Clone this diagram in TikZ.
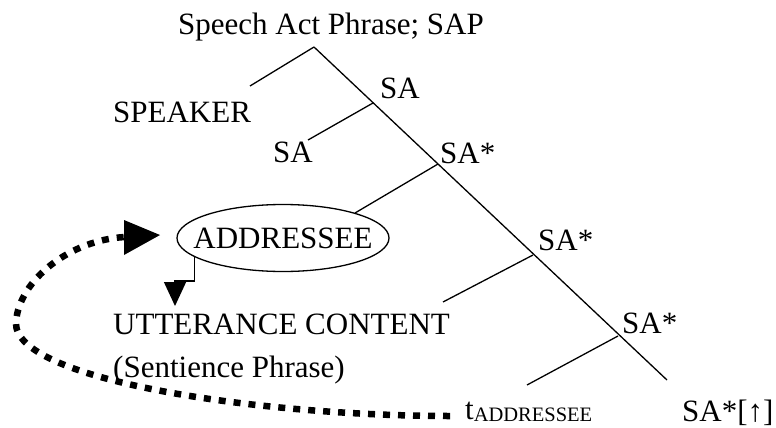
\documentclass[tikz,border=0pt]{standalone}
\usepackage{fontspec}
\setmainfont{Liberation Serif}
\usetikzlibrary{arrows.meta,shapes.geometric}
\begin{document}
\begin{tikzpicture}[x=1pt,y=-1pt,
  lbl/.style={inner sep=0pt,anchor=base west,font=\fontsize{31}{36}\selectfont},
  tree/.style={line width=1.3pt},
  dots/.style={line width=6.5pt,dash pattern=on 7pt off 8pt}]
\useasboundingbox (0,0) rectangle (776,428);
% tree coordinates
\coordinate (top) at (314,47);
\coordinate (b1) at (373,103);
\coordinate (b2) at (438,164);
\coordinate (b3) at (533,255);
\coordinate (b4) at (618,336);
\coordinate (bot) at (667,380);
\coordinate (l0) at (250,86);
\coordinate (l1) at (308,140);
\coordinate (l2) at (355,213);
\coordinate (l3) at (443,302);
\coordinate (l4) at (527,385);
% labels
\node[lbl,anchor=base] (sap) at (331,35) {Speech Act Phrase; SAP};
\node[lbl] (spk) at (113,122) {SPEAKER};
\node[lbl] (sa1) at (380,99) {SA};
\node[lbl] (sa2) at (273,162) {SA};
\node[lbl] (sa3) at (440,163) {SA*};
\node[lbl] (sa4) at (538,250) {SA*};
\node[lbl] (sa5) at (622,333) {SA*};
\node[lbl] (sa6) at (682,421) {SA*[↑]};
\node[draw,ellipse,line width=1.3pt,minimum width=212pt,minimum height=67pt,inner xsep=-15pt,inner ysep=0pt,font=\fontsize{31}{36}\selectfont] (addr) at (283,238) {ADDRESSEE};
\node[lbl] (utt) at (113,334) {UTTERANCE CONTENT};
\node[lbl] (sent) at (113,377) {(Sentience Phrase)};
\node[lbl] (trace) at (465,419) {t\raisebox{-2pt}{\fontsize{20.5}{24}\selectfont ADDRESSEE}};
% tree lines
\draw[tree] (top) -- (bot);
\draw[tree] (top) -- (l0);
\draw[tree] (b1) -- (l1);
\draw[tree] (b2) -- (l2);
\draw[tree] (b3) -- (l3);
\draw[tree] (b4) -- (l4);
% small arrow
\coordinate (ar2) at (175,281);
\coordinate (ar3) at (175,306);
\draw[tree,-{Triangle[length=24pt,width=22pt]}] (addr.192) |- (ar2) -- (ar3);
% dotted movement arrow
\coordinate (d0) at (450,416);
\coordinate (d1) at (16,322);
\coordinate (d2) at (160,235);
\draw[dots] (d0) .. controls (260,416) and (12,380) .. (d1)
   .. controls (19,280) and (70,240) .. (125,237);
\fill (124,220) -- (d2) -- (124,255) -- cycle;
\end{tikzpicture}
\end{document}
